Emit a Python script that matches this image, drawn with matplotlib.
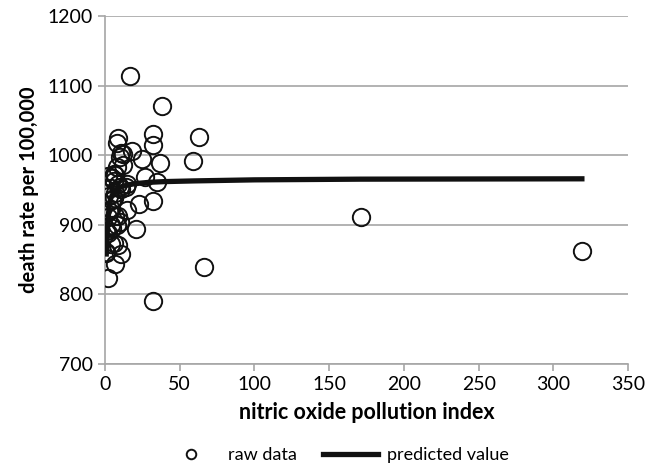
import matplotlib
matplotlib.use('Agg')
import matplotlib.pyplot as plt

# raw data: nitric oxide index vs death rate
nox = [15, 10, 6, 8, 38, 32, 32, 4, 12, 7,
       8, 9, 2, 12, 15, 1, 5, 4, 9, 3,
       1, 9, 7, 2, 4, 27, 3, 7, 319, 37,
       18, 1, 23, 11, 35, 4, 17, 25, 32, 59,
       21, 6, 7, 63, 6, 14, 66, 171, 32, 8,
       10, 11, 6, 9, 5, 2, 11, 5, 2, 10]
mort = [921.9, 997.9, 962.4, 982.3, 1071.3, 1030.4, 934.7, 899.5, 1001.9, 912.3,
        1017.6, 1024.9, 970.5, 986.0, 958.8, 860.1, 936.2, 871.8, 959.2, 941.2,
        891.7, 871.3, 971.1, 887.5, 952.5, 968.7, 919.7, 844.1, 861.8, 989.3,
        1006.5, 861.4, 929.2, 857.6, 961.0, 923.2, 1113.2, 994.6, 1015.0, 991.3,
        894.0, 938.5, 946.2, 1025.5, 874.3, 953.6, 839.7, 911.7, 790.7, 899.3,
        904.2, 950.7, 972.5, 912.2, 967.8, 823.8, 1003.5, 895.7, 911.8, 954.4]

# predicted curve
pred_x = [1, 2, 3, 4, 6, 8, 10, 15, 20, 30, 40, 60, 100, 171, 319]
pred_y = [858, 905, 928, 938, 947, 951, 954, 957, 959, 961, 962, 963, 964.5, 965.5, 966]

plt.rcParams['font.family'] = ['Lato', 'DejaVu Sans']

fig = plt.figure(figsize=(6.47, 4.69), dpi=100)
ax = fig.add_axes([0.162, 0.224, 0.809, 0.742])

ax.plot(nox, mort, 'o', markersize=12.5, markerfacecolor='none',
        markeredgecolor='#111111', markeredgewidth=1.4, label='raw data', zorder=3)
ax.plot(pred_x, pred_y, color='#111111', linewidth=3.8, label='predicted value', zorder=4)

ax.set_xlim(0, 350)
ax.set_ylim(700, 1200)
ax.set_xticks(range(0, 351, 50))
ax.set_yticks(range(700, 1201, 100))
ax.grid(axis='y', color='#a6a6a6', linewidth=1.2)
ax.set_axisbelow(True)
for s in ['top', 'right']:
    ax.spines[s].set_visible(False)
for s in ['left', 'bottom']:
    ax.spines[s].set_color('#a6a6a6')
    ax.spines[s].set_linewidth(1.2)
ax.tick_params(colors='#a6a6a6', labelcolor='black', labelsize=14, length=5, width=1.2)

ax.set_xlabel('nitric oxide pollution index', fontsize=15.5, fontweight='bold', labelpad=7)
ax.set_ylabel('death rate per 100,000', fontsize=14.5, fontweight='bold', labelpad=6)

leg = fig.legend(loc='center', bbox_to_anchor=(0.52, 0.03), ncol=2, frameon=False,
                 fontsize=13, markerscale=0.55, handlelength=3.0, handletextpad=0.5,
                 columnspacing=1.5)

fig.savefig('out.png', dpi=100)
